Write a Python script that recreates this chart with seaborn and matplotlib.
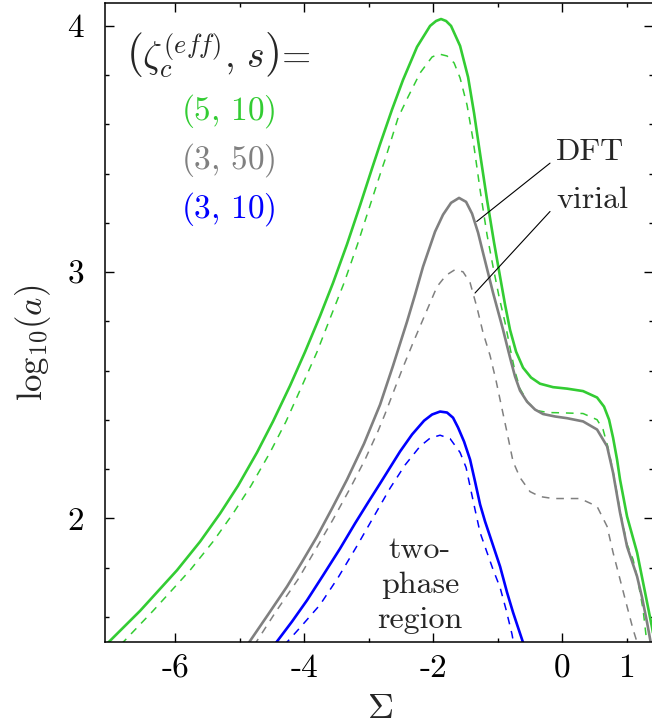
import numpy as np
import pandas as pd
import matplotlib
matplotlib.use("Agg")
import matplotlib.pyplot as plt
import seaborn as sns

# ---------------- data ----------------
green_dft_x = [-7.06, -6.542, -5.969, -5.612, -5.302, -5.023, -4.729, -4.481, -4.217, -3.985,
               -3.752, -3.551, -3.334, -3.132, -2.946, -2.822, -2.636, -2.466, -2.249, -2.047,
               -1.954, -1.877, -1.799, -1.722, -1.582, -1.458, -1.365, -1.272, -1.164, -1.055,
               -0.962, -0.885, -0.808, -0.714, -0.606, -0.482, -0.343, -0.141, 0.076, 0.324,
               0.541, 0.649, 0.727, 0.789, 0.851, 0.897, 1.006, 1.161, 1.285, 1.393, 1.44]
green_dft_y = [1.49, 1.625, 1.790, 1.906, 2.020, 2.133, 2.268, 2.394, 2.539, 2.676,
               2.822, 2.956, 3.113, 3.271, 3.421, 3.519, 3.660, 3.780, 3.914, 3.999,
               4.019, 4.027, 4.019, 3.999, 3.918, 3.791, 3.645, 3.480, 3.293, 3.119,
               2.981, 2.868, 2.766, 2.677, 2.612, 2.572, 2.547, 2.533, 2.527, 2.517,
               2.491, 2.454, 2.401, 2.328, 2.239, 2.158, 2.008, 1.862, 1.700, 1.558, 1.489]

green_vir_x = [-6.837, -6.341, -5.767, -5.411, -5.101, -4.822, -4.527, -4.279, -4.031, -3.799,
               -3.582, -3.380, -3.171, -2.977, -2.791, -2.745, -2.543, -2.388, -2.202, -2.016,
               -1.908, -1.784, -1.675, -1.582, -1.474, -1.381, -1.272, -1.164, -1.071, -0.978,
               -0.885, -0.808, -0.730, -0.653, -0.529, -0.389, -0.219, -0.033, 0.324, 0.541,
               0.634, 0.711, 0.789, 0.897, 1.006, 1.099, 1.176, 1.254, 1.316]
green_vir_y = [1.489, 1.625, 1.790, 1.906, 2.020, 2.133, 2.268, 2.394, 2.539, 2.676,
               2.822, 2.956, 3.113, 3.271, 3.421, 3.456, 3.626, 3.711, 3.808, 3.873,
               3.885, 3.877, 3.849, 3.788, 3.678, 3.537, 3.334, 3.151, 3.022, 2.900,
               2.795, 2.693, 2.596, 2.527, 2.470, 2.438, 2.430, 2.429, 2.426, 2.401,
               2.361, 2.288, 2.191, 2.032, 1.895, 1.834, 1.745, 1.631, 1.489]

gray_dft_x = [-4.884, -4.558, -4.264, -4.031, -3.799, -3.566, -3.334, -3.070, -2.822, -2.621,
              -2.404, -2.280, -2.156, -1.970, -1.846, -1.722, -1.598, -1.489, -1.396, -1.303,
              -1.226, -1.071, -0.916, -0.854, -0.792, -0.730, -0.653, -0.544, -0.420, -0.296,
              -0.110, 0.076, 0.324, 0.541, 0.696, 0.789, 0.897, 1.006, 1.161, 1.238, 1.316,
              1.378]
gray_dft_y = [1.485, 1.610, 1.724, 1.824, 1.927, 2.041, 2.158, 2.304, 2.462, 2.620,
              2.799, 2.908, 3.022, 3.164, 3.233, 3.281, 3.301, 3.285, 3.237, 3.160,
              3.078, 2.916, 2.766, 2.701, 2.637, 2.576, 2.519, 2.474, 2.442, 2.424,
              2.414, 2.407, 2.394, 2.361, 2.293, 2.186, 2.024, 1.886, 1.765, 1.680, 1.578,
              1.489]

gray_vir_x = [-4.775, -4.434, -4.093, -3.822, -3.551, -3.295, -3.055, -2.853, -2.745, -2.621,
              -2.481, -2.311, -2.171, -1.939, -1.799, -1.660, -1.536, -1.427, -1.319, -1.226,
              -1.117, -1.024, -0.962, -0.854, -0.761, -0.653, -0.498, -0.343, -0.141, 0.277,
              0.541, 0.696, 0.789, 0.897, 1.006, 1.099, 1.176]
gray_vir_y = [1.485, 1.623, 1.753, 1.874, 1.996, 2.118, 2.239, 2.355, 2.424, 2.509,
              2.604, 2.713, 2.799, 2.941, 2.987, 3.010, 3.001, 2.957, 2.855, 2.754,
              2.661, 2.559, 2.482, 2.349, 2.231, 2.166, 2.109, 2.089, 2.081, 2.081,
              2.049, 1.968, 1.862, 1.753, 1.643, 1.550, 1.485]

blue_dft_x = [-4.465, -4.186, -3.954, -3.706, -3.442, -3.210, -3.008, -2.822, -2.667, -2.512,
              -2.326, -2.140, -2.016, -1.892, -1.784, -1.691, -1.613, -1.520, -1.427, -1.350,
              -1.272, -1.195, -1.117, -0.962, -0.854, -0.761, -0.684, -0.591]
blue_dft_y = [1.485, 1.582, 1.668, 1.769, 1.878, 1.980, 2.065, 2.142, 2.207, 2.272,
              2.341, 2.397, 2.422, 2.434, 2.430, 2.409, 2.369, 2.312, 2.239, 2.150,
              2.057, 1.988, 1.927, 1.805, 1.700, 1.619, 1.558, 1.485]

blue_vir_x = [-4.310, -4.062, -3.752, -3.473, -3.179, -2.853, -2.667, -2.435, -2.202, -2.047,
              -1.892, -1.737, -1.582, -1.489, -1.427, -1.350, -1.272, -1.164, -1.071, -0.962,
              -0.870, -0.777, -0.746]
blue_vir_y = [1.485, 1.557, 1.650, 1.760, 1.889, 2.038, 2.123, 2.217, 2.293, 2.326,
              2.338, 2.324, 2.268, 2.207, 2.130, 2.036, 1.943, 1.862, 1.793, 1.720,
              1.631, 1.530, 1.485]

series_labels = ["(5, 10)", "(3, 50)", "(3, 10)"]
series_math = [r"$(5,\,10)$", r"$(3,\,50)$", r"$(3,\,10)$"]
colors = {"(5, 10)": "#33cc33", "(3, 50)": "#808080", "(3, 10)": "#0000ff"}

xticks_major = [-6, -4, -2, 0]
xticks_minor = [-5, -3, -1, 1]
xminor_labels = ["", "", "", "1"]
yticks_major = [2, 3, 4]
yticks_minor = [1.6, 1.8, 2.2, 2.4, 2.6, 2.8, 3.2, 3.4, 3.6, 3.8, 4.0]

# ---------------- build long table ----------------
rows = []
for lab, m, xs, ys in [
    ("(5, 10)", "DFT", green_dft_x, green_dft_y),
    ("(5, 10)", "virial", green_vir_x, green_vir_y),
    ("(3, 50)", "DFT", gray_dft_x, gray_dft_y),
    ("(3, 50)", "virial", gray_vir_x, gray_vir_y),
    ("(3, 10)", "DFT", blue_dft_x, blue_dft_y),
    ("(3, 10)", "virial", blue_vir_x, blue_vir_y),
]:
    for x, y in zip(xs, ys):
        rows.append({"Sigma": x, "loga": y, "series": lab, "method": m})
df = pd.DataFrame(rows)

# ---------------- style ----------------
sns.set_style("ticks")
plt.rcParams["font.family"] = ["cmr10", "DejaVu Serif"]
plt.rcParams["mathtext.fontset"] = "cm"
plt.rcParams["axes.formatter.use_mathtext"] = True
plt.rcParams["axes.unicode_minus"] = False

W, H = 652, 728
fig = plt.figure(figsize=(W / 100, H / 100), dpi=100)
ax = fig.add_axes([105 / W, 1 - 641.7 / H, (653 - 105) / W, (641.7 - 3) / H])

for meth, lw, dash in [("virial", 1.1, (5, 4.5)), ("DFT", 1.9, "")]:
    sub = df[df["method"] == meth]
    sns.lineplot(data=sub, x="Sigma", y="loga", hue="series", hue_order=series_labels,
                 palette=colors, units="series", estimator=None, sort=False,
                 linewidth=lw, dashes=False, legend=False, ax=ax)
    n = len(series_labels)
    for ln in ax.get_lines()[-n:]:
        if dash:
            ln.set_dashes(dash)
        ln.set_solid_joinstyle("round")

ax.set_xlim(-7.085, 1.408)
ax.set_ylim(1.5, 4.092)
ax.set_xlabel("")
ax.set_ylabel("")

ax.set_xticks(xticks_major, labels=[str(v) for v in xticks_major])
ax.set_xticks(xticks_minor, labels=xminor_labels, minor=True)
ax.set_yticks(yticks_major, labels=[str(v) for v in yticks_major])
ax.set_yticks(yticks_minor, minor=True)

ax.tick_params(which="both", direction="in", top=True, right=True, width=1.0,
               labelsize=24, color="black", labelcolor="black")
ax.tick_params(which="major", length=6.5)
ax.tick_params(which="minor", length=3)
ax.tick_params(axis="x", which="both", pad=9)
ax.tick_params(axis="y", which="both", pad=15)
for sp in ax.spines.values():
    sp.set_linewidth(1.1)
    sp.set_color("black")


def fpx(px, py):
    return px / W, 1 - py / H


# axis labels
fig.text(*fpx(33, 343), r"$\mathrm{log}_{10}(a)$", rotation=90, ha="center", va="center", fontsize=25)
fig.text(*fpx(380, 709), r"$\Sigma$", ha="center", va="center", fontsize=26)

# legend-like text
fig.text(*fpx(126, 54), r"$\left(\zeta_c^{(eff)},\,s\right)$=", ha="left", va="center", fontsize=27)
for lab, txt, py in zip(series_labels, series_math, [111, 160, 209]):
    fig.text(*fpx(228, py), txt, ha="center", va="center", fontsize=24, color=colors[lab])

# DFT / virial annotations
def dx(px):
    return -6 + (px - 175) / 64.52


def dy(py):
    return 2 - (py - 519) / 246.65


ax.annotate("", xy=(dx(476.7), dy(221.7)), xytext=(dx(550), dy(163.3)),
            arrowprops=dict(arrowstyle="-", lw=0.8, color="black", shrinkA=0, shrinkB=0))
ax.annotate("", xy=(dx(475), dy(293.3)), xytext=(dx(550), dy(211.7)),
            arrowprops=dict(arrowstyle="-", lw=0.8, color="black", shrinkA=0, shrinkB=0))
fig.text(*fpx(556, 160), "DFT", ha="left", va="baseline", fontsize=23)
fig.text(*fpx(556, 208), "virial", ha="left", va="baseline", fontsize=23)

# two-phase region
for txt, py in [("two-", 558), ("phase", 593), ("region", 628)]:
    fig.text(*fpx(420, py), txt, ha="center", va="baseline", fontsize=23)

fig.savefig("out.png", dpi=100)
